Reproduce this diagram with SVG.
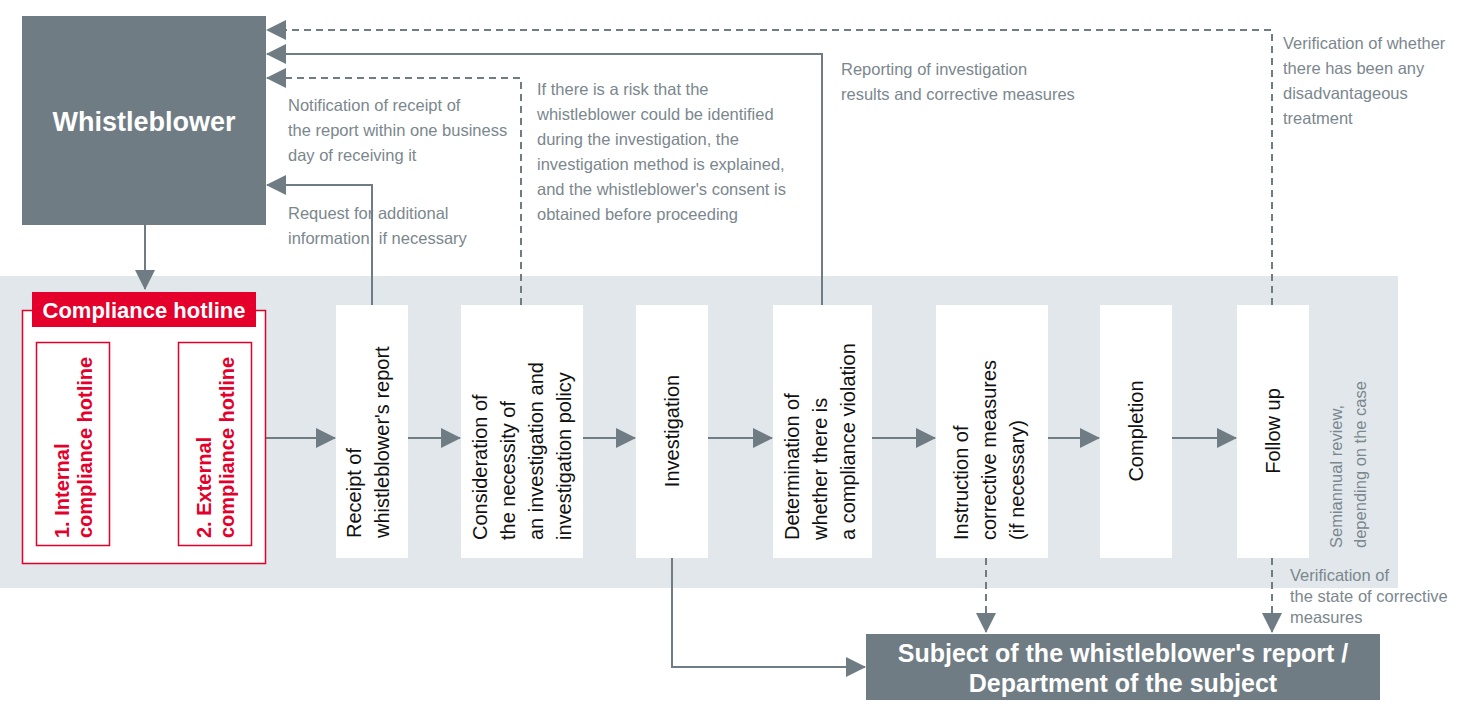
<svg xmlns="http://www.w3.org/2000/svg" width="1471" height="723" viewBox="0 0 1471 723">
<defs>
<style>
.lbl{font-family:"Liberation Sans",Arial,sans-serif;font-size:16.5px;fill:#7b878e}
.box{fill:#fff}
.bt{font-family:"Liberation Sans",Arial,sans-serif;font-size:20px;fill:#111}
.ln{stroke:#6f7c84;stroke-width:2;fill:none}
.dl{stroke:#6f7c84;stroke-width:2;fill:none;stroke-dasharray:7,5}
.rl{stroke:#e4002b;stroke-width:2;fill:none}
.rt{font-family:"Liberation Sans",Arial,sans-serif;font-size:20px;font-weight:bold;fill:#e4002b}
</style>
<marker id="ag" markerWidth="10" markerHeight="10" refX="9" refY="5" orient="auto" markerUnits="userSpaceOnUse" viewBox="0 0 10 10"><path d="M0,0L10,5L0,10z" fill="#6f7c84"/></marker>
<marker id="agb" markerWidth="20" markerHeight="20" refX="19" refY="10" orient="auto" markerUnits="userSpaceOnUse" viewBox="0 0 20 20"><path d="M0,0L20,10L0,20z" fill="#6f7c84"/></marker>
<marker id="ar" markerWidth="22" markerHeight="22" refX="21" refY="11" orient="auto" markerUnits="userSpaceOnUse" viewBox="0 0 22 22"><path d="M0,0L22,11L0,22z" fill="#e4002b"/></marker>
</defs>
<rect x="0" y="276" width="1398" height="312" fill="#e1e7eb"/>

<g id="connectors">
<path class="ln" d="M145,225V289" marker-end="url(#agb)"/>
<path class="ln" d="M372,305V185H267" marker-end="url(#agb)"/>
<path class="dl" d="M521,305V78H267" marker-end="url(#agb)"/>
<path class="ln" d="M822,305V54H267" marker-end="url(#agb)"/>
<path class="dl" d="M1272,305V30H267" marker-end="url(#agb)"/>
<path class="ln" d="M265,438H335" marker-end="url(#agb)"/>
<path class="ln" d="M408,438H460" marker-end="url(#agb)"/>
<path class="ln" d="M583,438H635" marker-end="url(#agb)"/>
<path class="ln" d="M708,438H772" marker-end="url(#agb)"/>
<path class="ln" d="M872,438H935" marker-end="url(#agb)"/>
<path class="ln" d="M1048,438H1099" marker-end="url(#agb)"/>
<path class="ln" d="M1172,438H1236" marker-end="url(#agb)"/>
<path class="ln" d="M672,558V667H865" marker-end="url(#agb)"/>
<path class="dl" d="M986,558V632" marker-end="url(#agb)"/>
<path class="dl" d="M1272,558V632" marker-end="url(#agb)"/>
<path class="rl" d="M110,416H177" marker-end="url(#ar)"/>
<path class="rl" d="M178,469H111" marker-end="url(#ar)"/>
</g>

<g id="labels">
<text class="lbl" x="288" y="111">Notification of receipt of</text>
<text class="lbl" x="288" y="136">the report within one business</text>
<text class="lbl" x="288" y="161">day of receiving it</text>
<text class="lbl" x="288" y="219">Request for additional</text>
<text class="lbl" x="288" y="244">information, if necessary</text>
<text class="lbl" x="537" y="95">If there is a risk that the</text>
<text class="lbl" x="537" y="120">whistleblower could be identified</text>
<text class="lbl" x="537" y="145">during the investigation, the</text>
<text class="lbl" x="537" y="170">investigation method is explained,</text>
<text class="lbl" x="537" y="195">and the whistleblower's consent is</text>
<text class="lbl" x="537" y="220">obtained before proceeding</text>
<text class="lbl" x="841" y="75">Reporting of investigation</text>
<text class="lbl" x="841" y="100">results and corrective measures</text>
<text class="lbl" x="1283" y="49">Verification of whether</text>
<text class="lbl" x="1283" y="74">there has been any</text>
<text class="lbl" x="1283" y="99">disadvantageous</text>
<text class="lbl" x="1283" y="124">treatment</text>
<text class="lbl" transform="translate(1342,548) rotate(-90)">Semiannual review,</text>
<text class="lbl" transform="translate(1366,548) rotate(-90)">depending on the case</text>
<text class="lbl" x="1290" y="581">Verification of</text>
<text class="lbl" x="1290" y="602">the state of corrective</text>
<text class="lbl" x="1290" y="623">measures</text>
</g>

<g id="whistleblower">
<rect x="22" y="16" width="244" height="209" fill="#6f7c84"/>
<text x="144" y="131" text-anchor="middle" font-family="Liberation Sans,Arial,sans-serif" font-size="27" font-weight="bold" fill="#fff">Whistleblower</text>
</g>

<g id="hotline">
<rect x="22.5" y="310.5" width="243" height="253" fill="#fff" stroke="#e4002b" stroke-width="1.5"/>
<rect x="32" y="292" width="224" height="35" fill="#e4002b"/>
<text x="144" y="318" text-anchor="middle" font-family="Liberation Sans,Arial,sans-serif" font-size="22" font-weight="bold" fill="#fff">Compliance hotline</text>
</g>
<g id="internal">
<rect x="36.5" y="342.5" width="73" height="203" fill="#fff" stroke="#e4002b" stroke-width="1.5"/>
<text class="rt" transform="translate(69,538) rotate(-90)">1. Internal</text>
<text class="rt" transform="translate(92,538) rotate(-90)">compliance hotline</text>
</g>
<g id="external">
<rect x="178.5" y="342.5" width="73" height="203" fill="#fff" stroke="#e4002b" stroke-width="1.5"/>
<text class="rt" transform="translate(211,538) rotate(-90)">2. External</text>
<text class="rt" transform="translate(234,538) rotate(-90)">compliance hotline</text>
</g>

<g id="receipt">
<rect class="box" x="336" y="305" width="72" height="253"/>
<text class="bt" transform="translate(361,538) rotate(-90)">Receipt of</text>
<text class="bt" transform="translate(389,538) rotate(-90)">whistleblower's report</text>
</g>
<g id="consideration">
<rect class="box" x="461" y="305" width="122" height="253"/>
<text class="bt" transform="translate(487,540) rotate(-90)">Consideration of</text>
<text class="bt" transform="translate(515,540) rotate(-90)">the necessity of</text>
<text class="bt" transform="translate(543,540) rotate(-90)">an investigation and</text>
<text class="bt" transform="translate(571,540) rotate(-90)">investigation policy</text>
</g>
<g id="investigation">
<rect class="box" x="636" y="305" width="72" height="253"/>
<text class="bt" text-anchor="middle" transform="translate(679,431) rotate(-90)">Investigation</text>
</g>
<g id="determination">
<rect class="box" x="773" y="305" width="99" height="253"/>
<text class="bt" transform="translate(799,540) rotate(-90)">Determination of</text>
<text class="bt" transform="translate(827,540) rotate(-90)">whether there is</text>
<text class="bt" transform="translate(855,540) rotate(-90)">a compliance violation</text>
</g>
<g id="instruction">
<rect class="box" x="936" y="305" width="112" height="253"/>
<text class="bt" transform="translate(968,540) rotate(-90)">Instruction of</text>
<text class="bt" transform="translate(996,540) rotate(-90)">corrective measures</text>
<text class="bt" transform="translate(1024,540) rotate(-90)">(if necessary)</text>
</g>
<g id="completion">
<rect class="box" x="1100" y="305" width="72" height="253"/>
<text class="bt" text-anchor="middle" transform="translate(1143,431) rotate(-90)">Completion</text>
</g>
<g id="followup">
<rect class="box" x="1237" y="305" width="72" height="253"/>
<text class="bt" text-anchor="middle" transform="translate(1280,431) rotate(-90)">Follow up</text>
</g>
<g id="subject">
<rect x="866" y="634" width="514" height="66" fill="#6f7c84"/>
<text x="1123" y="662" text-anchor="middle" font-family="Liberation Sans,Arial,sans-serif" font-size="25" font-weight="bold" fill="#fff">Subject of the whistleblower's report /</text>
<text x="1123" y="692" text-anchor="middle" font-family="Liberation Sans,Arial,sans-serif" font-size="25" font-weight="bold" fill="#fff">Department of the subject</text>
</g>
</svg>
